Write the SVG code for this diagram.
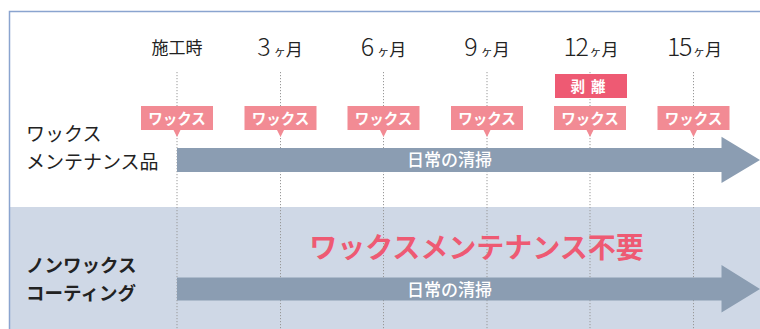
<svg xmlns="http://www.w3.org/2000/svg" width="760" height="329" viewBox="0 0 760 329">
<style>
.f{font-family:"Noto Sans CJK JP","Noto Sans",sans-serif}
.hd{font-size:17px;fill:#222}
.num{font-size:25px;fill:#222;font-weight:300}
.sm{font-size:12px;fill:#222}
.lbl{font-size:19px;fill:#222}
.lblb{font-size:18.5px;fill:#222;font-weight:bold}
.tag{fill:#f28b94}
.tagt{font-size:14.5px;fill:#fff;font-weight:bold}
.bar{fill:#8b9db2}
.bart{font-size:17px;fill:#fff;font-weight:500}
.vl{stroke:#999;stroke-width:1;stroke-dasharray:1.2 1.8}
</style>
<rect x="10" y="207" width="750" height="122" fill="#cfd8e6"/>
<path d="M760 11.5 H9.5 V329" fill="none" stroke="#8aa4cf" stroke-width="1.5"/>
<g id="gridlines">
<line class="vl" x1="177" y1="72" x2="177" y2="329"/>
<line class="vl" x1="280.5" y1="72" x2="280.5" y2="329"/>
<line class="vl" x1="383.5" y1="72" x2="383.5" y2="329"/>
<line class="vl" x1="487" y1="72" x2="487" y2="329"/>
<line class="vl" x1="590" y1="72" x2="590" y2="329"/>
<line class="vl" x1="693.5" y1="72" x2="693.5" y2="329"/>
</g>
<g id="headers" class="f">
<text class="hd" x="177" y="54" text-anchor="middle">施工時</text>
<text x="280" y="56" text-anchor="middle"><tspan class="num">3</tspan><tspan class="sm" dx="3">ヶ</tspan><tspan class="hd">月</tspan></text>
<text x="383.5" y="56" text-anchor="middle"><tspan class="num">6</tspan><tspan class="sm" dx="3">ヶ</tspan><tspan class="hd">月</tspan></text>
<text x="487" y="56" text-anchor="middle"><tspan class="num">9</tspan><tspan class="sm" dx="3">ヶ</tspan><tspan class="hd">月</tspan></text>
<text x="591" y="56" text-anchor="middle"><tspan class="num" letter-spacing="-1.5">12</tspan><tspan class="sm" dx="2">ヶ</tspan><tspan class="hd">月</tspan></text>
<text x="694.5" y="56" text-anchor="middle"><tspan class="num" letter-spacing="-1.5">15</tspan><tspan class="sm" dx="2">ヶ</tspan><tspan class="hd">月</tspan></text>
</g>
<g id="row-labels" class="f">
<text class="lbl" x="26" y="141">ワックス</text>
<text class="lbl" x="26" y="169">メンテナンス品</text>
<text class="lblb" x="26" y="272">ノンワックス</text>
<text class="lblb" x="26" y="300">コーティング</text>
</g>
<g id="connectors">
<path class="bar" d="M177 148 H721.5 V136.7 L760 160 L721.5 183 V172 H177 Z"/>
<path class="bar" d="M177 277.5 H721.5 V265 L760 289 L721.5 312.5 V300.5 H177 Z"/>
</g>
<g id="bar-labels" class="f">
<text class="bart" x="449.5" y="166" text-anchor="middle">日常の清掃</text>
<text class="bart" x="449.5" y="296" text-anchor="middle">日常の清掃</text>
</g>
<g id="wax-tags" class="f">
<g id="tag0"><path class="tag" d="M141 106 H213 V130 H180.5 L177 137 L173.5 130 H141 Z"/><text class="tagt" x="177" y="123.5" text-anchor="middle">ワックス</text></g>
<g id="tag3"><path class="tag" d="M244.5 106 H316.5 V130 H284 L280.5 137 L277 130 H244.5 Z"/><text class="tagt" x="280.5" y="123.5" text-anchor="middle">ワックス</text></g>
<g id="tag6"><path class="tag" d="M347.5 106 H419.5 V130 H387 L383.5 137 L380 130 H347.5 Z"/><text class="tagt" x="383.5" y="123.5" text-anchor="middle">ワックス</text></g>
<g id="tag9"><path class="tag" d="M451 106 H523 V130 H490.5 L487 137 L483.5 130 H451 Z"/><text class="tagt" x="487" y="123.5" text-anchor="middle">ワックス</text></g>
<g id="tag12"><path class="tag" d="M554 106 H626 V130 H593.5 L590 137 L586.5 130 H554 Z"/><text class="tagt" x="590" y="123.5" text-anchor="middle">ワックス</text></g>
<g id="tag15"><path class="tag" d="M657.5 106 H729.5 V130 H697 L693.5 137 L690 130 H657.5 Z"/><text class="tagt" x="693.5" y="123.5" text-anchor="middle">ワックス</text></g>
</g>
<g id="peel" class="f">
<rect x="555" y="74" width="72" height="24" fill="#ee5a73"/>
<text class="tagt" x="591" y="91.5" text-anchor="middle" letter-spacing="6">剥離</text>
</g>
<g id="no-wax" class="f">
<text x="476.5" y="258" text-anchor="middle" font-size="28" font-weight="bold" fill="#ee5a73">ワックスメンテナンス不要</text>
</g>
</svg>
